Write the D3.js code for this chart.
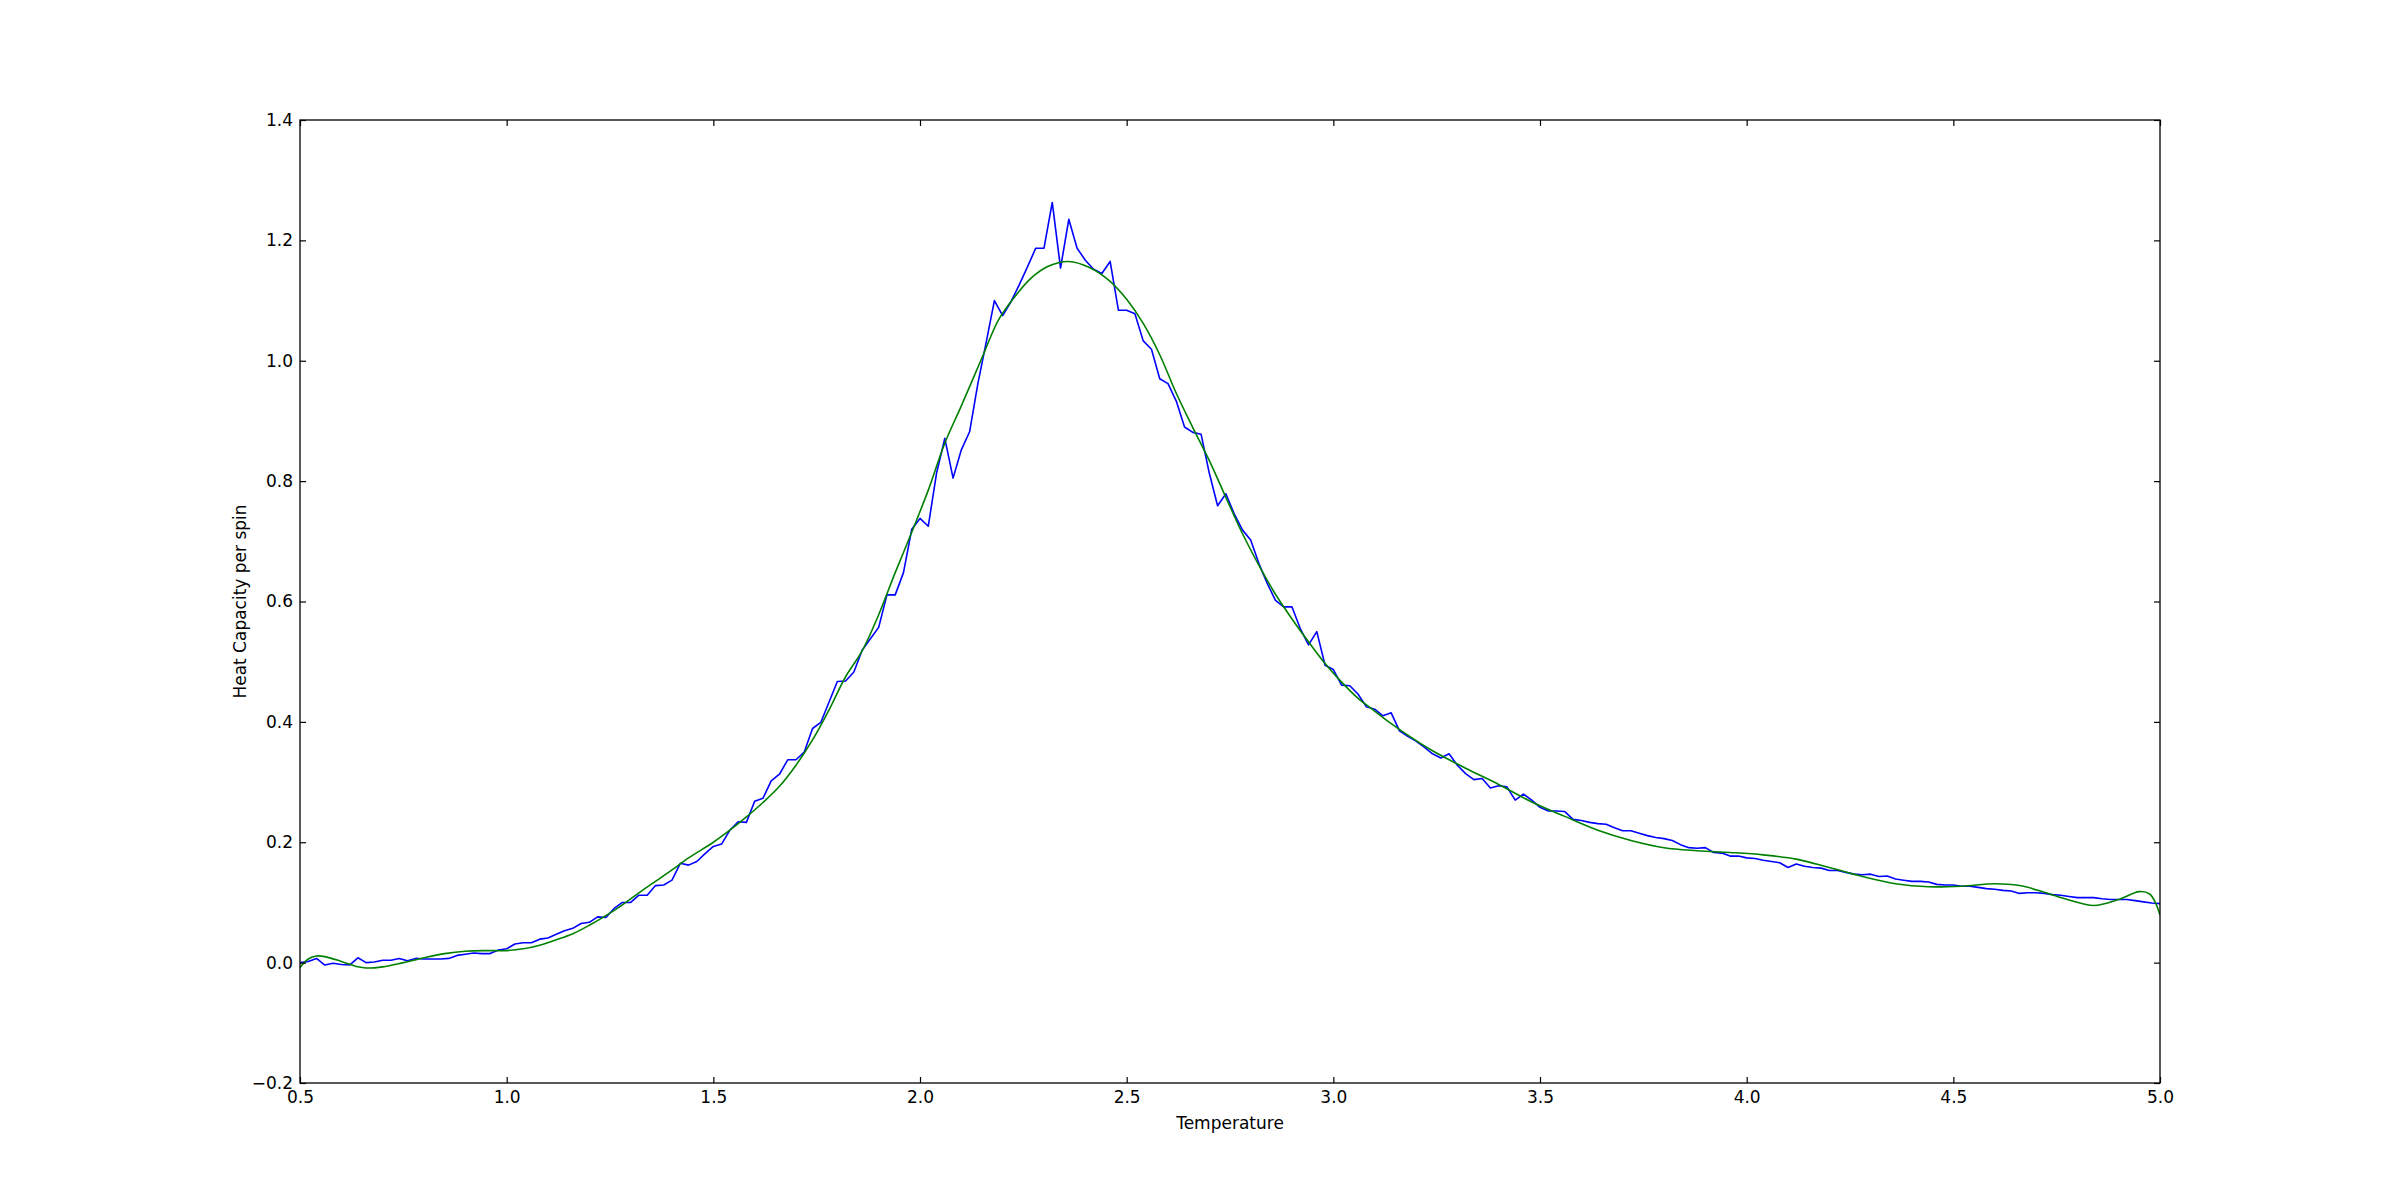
<!DOCTYPE html>
<html>
<head>
<meta charset="utf-8">
<script src="https://cdn.jsdelivr.net/npm/d3@7"></script>
<style>
  html, body { margin: 0; padding: 0; background: #ffffff; }
  svg { display: block; }
  text { font-family: "DejaVu Sans", sans-serif; fill: #000; }
</style>
</head>
<body>
<svg id="chart" width="2400" height="1203"></svg>
<script>
// ---- Data ----
const temperatures = [
  0.50,0.52,0.54,0.56,0.58,0.60,0.62,0.64,0.66,0.68,0.70,0.72,0.74,0.76,0.78,0.80,0.82,0.84,0.86,0.88,
  0.90,0.92,0.94,0.96,0.98,1.00,1.02,1.04,1.06,1.08,1.10,1.12,1.14,1.16,1.18,1.20,1.22,1.24,1.26,1.28,
  1.30,1.32,1.34,1.36,1.38,1.40,1.42,1.44,1.46,1.48,1.50,1.52,1.54,1.56,1.58,1.60,1.62,1.64,1.66,1.68,
  1.70,1.72,1.74,1.76,1.78,1.80,1.82,1.84,1.86,1.88,1.90,1.92,1.94,1.96,1.98,2.00,2.02,2.04,2.06,2.08,
  2.10,2.12,2.14,2.16,2.18,2.20,2.22,2.24,2.26,2.28,2.30,2.32,2.34,2.36,2.38,2.40,2.42,2.44,2.46,2.48,
  2.50,2.52,2.54,2.56,2.58,2.60,2.62,2.64,2.66,2.68,2.70,2.72,2.74,2.76,2.78,2.80,2.82,2.84,2.86,2.88,
  2.90,2.92,2.94,2.96,2.98,3.00,3.02,3.04,3.06,3.08,3.10,3.12,3.14,3.16,3.18,3.20,3.22,3.24,3.26,3.28,
  3.30,3.32,3.34,3.36,3.38,3.40,3.42,3.44,3.46,3.48,3.50,3.52,3.54,3.56,3.58,3.60,3.62,3.64,3.66,3.68,
  3.70,3.72,3.74,3.76,3.78,3.80,3.82,3.84,3.86,3.88,3.90,3.92,3.94,3.96,3.98,4.00,4.02,4.04,4.06,4.08,
  4.10,4.12,4.14,4.16,4.18,4.20,4.22,4.24,4.26,4.28,4.30,4.32,4.34,4.36,4.38,4.40,4.42,4.44,4.46,4.48,
  4.50,4.52,4.54,4.56,4.58,4.60,4.62,4.64,4.66,4.68,4.70,4.72,4.74,4.76,4.78,4.80,4.82,4.84,4.86,4.88,
  4.90,4.92,4.94,4.96,4.98,5.00
];
const heatCapacity = [
  0.000,0.002,0.007,-0.004,-0.001,-0.003,-0.004,0.008,0.000,0.001,0.004,0.004,0.007,0.003,0.007,0.006,0.006,0.006,0.007,0.012,
  0.014,0.016,0.015,0.015,0.021,0.023,0.031,0.033,0.033,0.039,0.041,0.047,0.053,0.057,0.065,0.067,0.076,0.075,0.090,0.100,
  0.100,0.112,0.112,0.128,0.129,0.137,0.165,0.162,0.168,0.181,0.193,0.197,0.220,0.234,0.233,0.268,0.273,0.302,0.313,0.337,
  0.337,0.350,0.389,0.399,0.433,0.467,0.468,0.483,0.519,0.538,0.557,0.611,0.611,0.648,0.720,0.738,0.725,0.813,0.871,0.805,
  0.852,0.882,0.962,1.030,1.100,1.075,1.098,1.126,1.156,1.187,1.187,1.263,1.154,1.235,1.187,1.167,1.152,1.145,1.165,1.084,
  1.084,1.078,1.033,1.019,0.970,0.962,0.933,0.890,0.881,0.878,0.813,0.759,0.779,0.746,0.719,0.702,0.663,0.630,0.602,0.591,
  0.591,0.555,0.528,0.550,0.494,0.487,0.461,0.460,0.446,0.425,0.421,0.410,0.415,0.385,0.376,0.368,0.358,0.347,0.340,0.347,
  0.328,0.314,0.304,0.306,0.290,0.294,0.292,0.270,0.280,0.270,0.258,0.252,0.252,0.251,0.238,0.236,0.233,0.231,0.230,0.224,
  0.219,0.219,0.215,0.211,0.208,0.206,0.203,0.196,0.191,0.190,0.191,0.183,0.182,0.177,0.177,0.174,0.173,0.170,0.168,0.166,
  0.158,0.164,0.160,0.158,0.157,0.153,0.153,0.150,0.147,0.146,0.147,0.143,0.144,0.139,0.137,0.135,0.135,0.134,0.130,0.129,
  0.129,0.127,0.127,0.125,0.123,0.122,0.120,0.119,0.115,0.116,0.116,0.115,0.113,0.112,0.110,0.108,0.108,0.108,0.106,0.105,
  0.105,0.105,0.103,0.101,0.099,0.098
];

// Smooth fit curve (green)
const fitTemperatures = [
  0.50,0.52,0.54,0.56,0.60,0.64,0.66,0.70,0.75,0.80,0.85,0.90,0.95,1.00,1.04,1.08,1.12,1.16,1.20,1.24,
  1.28,1.32,1.36,1.40,1.44,1.50,1.54,1.58,1.62,1.66,1.70,1.74,1.78,1.82,1.86,1.90,1.94,1.98,2.02,2.06,
  2.10,2.15,2.19,2.23,2.27,2.31,2.36,2.41,2.46,2.50,2.54,2.58,2.62,2.66,2.70,2.74,2.78,2.82,2.86,2.90,
  2.94,2.98,3.02,3.06,3.10,3.14,3.18,3.24,3.32,3.40,3.48,3.56,3.64,3.72,3.80,3.88,3.96,4.04,4.12,4.20,
  4.28,4.36,4.44,4.52,4.60,4.66,4.72,4.78,4.84,4.90,4.95,4.975,4.99,5.00
];
const fitValues = [
  -0.008,0.006,0.011,0.010,0.002,-0.007,-0.009,-0.007,0.000,0.008,0.015,0.019,0.020,0.020,0.023,0.029,0.038,0.048,0.062,0.078,
  0.096,0.116,0.135,0.154,0.174,0.200,0.220,0.242,0.266,0.293,0.328,0.370,0.420,0.475,0.518,0.578,0.648,0.715,0.785,0.863,
  0.925,1.005,1.068,1.107,1.138,1.157,1.165,1.155,1.132,1.102,1.062,1.010,0.946,0.889,0.834,0.773,0.713,0.660,0.612,0.571,
  0.533,0.497,0.466,0.439,0.418,0.397,0.378,0.352,0.323,0.296,0.267,0.243,0.220,0.203,0.191,0.186,0.183,0.179,0.172,0.158,
  0.143,0.131,0.126,0.127,0.131,0.128,0.117,0.104,0.095,0.105,0.118,0.114,0.098,0.079
];

const xTicks = [0.5,1.0,1.5,2.0,2.5,3.0,3.5,4.0,4.5,5.0];
const yTicks = [-0.2,0.0,0.2,0.4,0.6,0.8,1.0,1.2,1.4];
const xLabel = "Temperature";
const yLabel = "Heat Capacity per spin";

// ---- Layout ----
const plot = { left: 300, right: 2160, top: 120, bottom: 1083 };
const svg = d3.select("#chart");
svg.append("rect").attr("width", 2400).attr("height", 1203).attr("fill", "#ffffff");

const x = d3.scaleLinear().domain([0.5, 5.0]).range([plot.left, plot.right]);
const y = d3.scaleLinear().domain([-0.2, 1.4]).range([plot.bottom, plot.top]);

svg.append("defs").append("clipPath").attr("id", "clip")
  .append("rect")
  .attr("x", plot.left).attr("y", plot.top)
  .attr("width", plot.right - plot.left).attr("height", plot.bottom - plot.top);

const g = svg.append("g").attr("clip-path", "url(#clip)");

const blueData = temperatures.map((t, i) => [t, heatCapacity[i]]);
const fitData = fitTemperatures.map((t, i) => [t, fitValues[i]]);

g.append("path")
  .datum(blueData)
  .attr("fill", "none")
  .attr("stroke", "#0000ff")
  .attr("stroke-width", 1.6)
  .attr("stroke-linejoin", "round")
  .attr("d", d3.line().x(d => x(d[0])).y(d => y(d[1])));

g.append("path")
  .datum(fitData)
  .attr("fill", "none")
  .attr("stroke", "#008000")
  .attr("stroke-width", 1.6)
  .attr("d", d3.line().curve(d3.curveCatmullRom.alpha(0.5)).x(d => x(d[0])).y(d => y(d[1])));

// ---- Axes ----
const fmtX = d3.format(".1f");
const fmtY = v => d3.format(".1f")(v).replace("-", "\u2212");
const fontSize = "17px";

function styleAxis(sel) {
  sel.select(".domain").remove();
  sel.selectAll(".tick line").attr("stroke", "#000").attr("stroke-width", 1.2);
  sel.selectAll("text").style("font-family", "'DejaVu Sans', sans-serif").style("font-size", fontSize).attr("fill", "#000");
}

svg.append("g")
  .attr("transform", `translate(0,${plot.bottom})`)
  .call(d3.axisBottom(x).tickValues(xTicks).tickFormat(fmtX).tickSize(-6).tickPadding(8))
  .call(styleAxis);

svg.append("g")
  .attr("transform", `translate(0,${plot.top})`)
  .call(d3.axisTop(x).tickValues(xTicks).tickFormat("").tickSize(-6))
  .call(styleAxis);

svg.append("g")
  .attr("transform", `translate(${plot.left},0)`)
  .call(d3.axisLeft(y).tickValues(yTicks).tickFormat(fmtY).tickSize(-6).tickPadding(7))
  .call(styleAxis);

svg.append("g")
  .attr("transform", `translate(${plot.right},0)`)
  .call(d3.axisRight(y).tickValues(yTicks).tickFormat("").tickSize(-6))
  .call(styleAxis);

// frame
svg.append("rect")
  .attr("x", plot.left).attr("y", plot.top)
  .attr("width", plot.right - plot.left).attr("height", plot.bottom - plot.top)
  .attr("fill", "none").attr("stroke", "#000").attr("stroke-width", 1.3);

// axis labels
svg.append("text")
  .attr("x", (plot.left + plot.right) / 2).attr("y", 1129)
  .attr("text-anchor", "middle")
  .style("font-size", fontSize)
  .text(xLabel);

svg.append("text")
  .attr("transform", `translate(245.5,${(plot.top + plot.bottom) / 2}) rotate(-90)`)
  .attr("text-anchor", "middle")
  .style("font-size", fontSize)
  .text(yLabel);
</script>
</body>
</html>
